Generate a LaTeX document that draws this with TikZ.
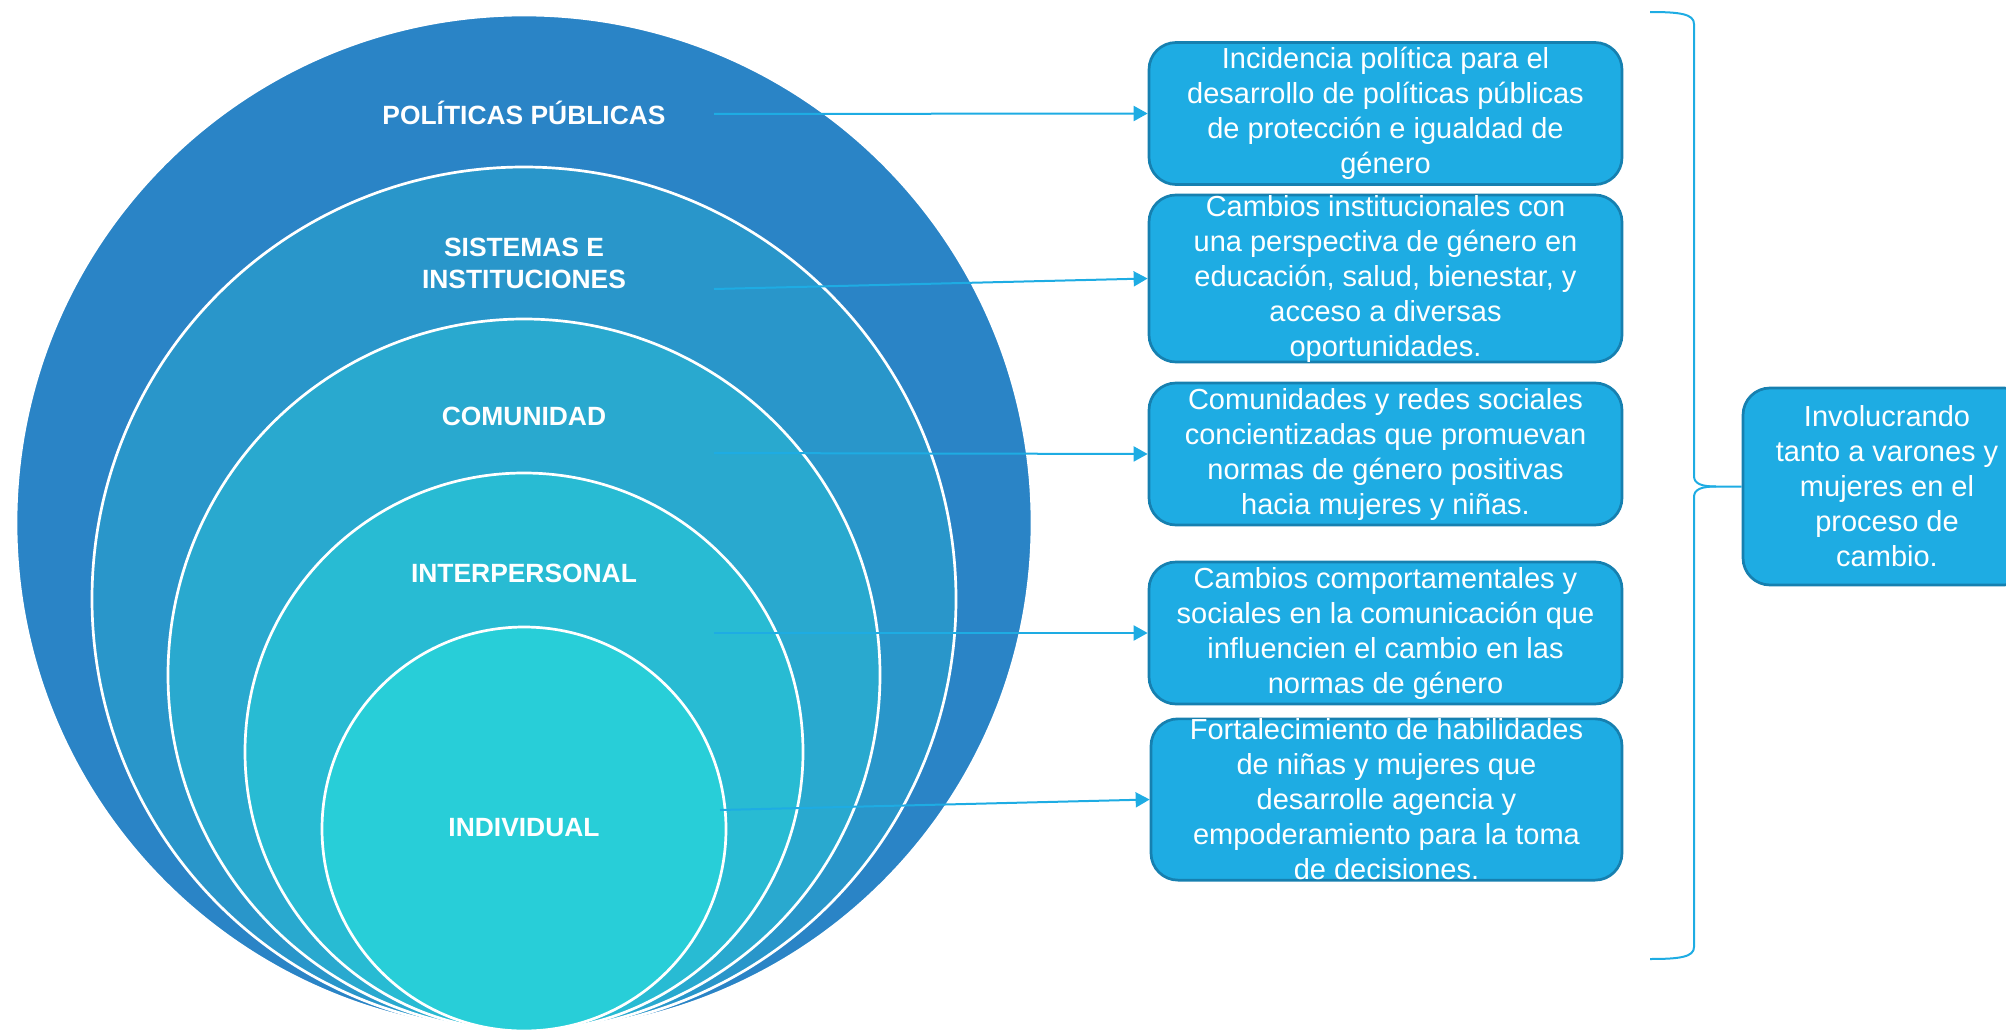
\documentclass[tikz,border=0pt]{standalone}
\usepackage{fontspec}
\setmainfont{Liberation Sans}
\usetikzlibrary{arrows.meta}

\definecolor{anillo1}{RGB}{42,132,198}
\definecolor{anillo2}{RGB}{41,150,202}
\definecolor{anillo3}{RGB}{41,169,207}
\definecolor{anillo4}{RGB}{40,187,211}
\definecolor{anillo5}{RGB}{40,206,216}
\definecolor{azulcaja}{RGB}{30,172,227}
\definecolor{bordecaja}{RGB}{22,128,176}

\tikzset{
  nivel/.style={text=white, align=center, font=\bfseries\fontsize{26.4}{32}\selectfont},
  recuadro/.style={draw=bordecaja, line width=2.7pt, fill=azulcaja, rounded corners=27pt,
    text=white, align=center, inner xsep=4pt, inner ysep=0pt, minimum width=473pt,
    font=\fontsize{29}{35}\selectfont},
  flecha/.style={azulcaja, line width=2pt, -{Triangle[length=14pt,width=15pt]}},
  llave/.style={azulcaja, line width=2pt}
}

\begin{document}
\begin{tikzpicture}[x=1pt,y=-1pt]
    \useasboundingbox (0,0) rectangle (2006,1033);
    % rings, all touching at the bottom
    \foreach \r/\c in {508/anillo1,432/anillo2,356/anillo3,279/anillo4,202/anillo5}
        \draw[white, line width=2.7pt, fill=\c] (524,{1031-\r}) circle[radius=\r];

    \node[nivel] at (524,113) (politicas) {POLÍTICAS PÚBLICAS};
    \node[nivel] at (524,263) (sistemas) {SISTEMAS E\\INSTITUCIONES};
    \node[nivel] at (524,416) (comunidad) {COMUNIDAD};
    \node[nivel] at (524,573) (interpersonal) {INTERPERSONAL};
    \node[nivel] at (524,828) (individual) {INDIVIDUAL};

    \node[recuadro, minimum height=142pt] at (1385.5,113.5) (b1)
        {Incidencia política para el\\desarrollo de políticas públicas\\de protección e igualdad de\\género};
    \node[recuadro, minimum height=163pt] at (1385.5,278.5) (b2)
        {Cambios institucionales con\\una perspectiva de género en\\educación, salud, bienestar, y\\acceso a diversas\\oportunidades.};
    \node[recuadro, minimum height=142pt] at (1385.5,454) (b3)
        {Comunidades y redes sociales\\concientizadas que promuevan\\normas de género positivas\\hacia mujeres y niñas.};
    \node[recuadro, minimum height=142pt] at (1385.5,633) (b4)
        {Cambios comportamentales y\\sociales en la comunicación que\\influencien el cambio en las\\normas de género};
    \node[recuadro, minimum height=161pt, minimum width=471pt] at (1386.5,799.5) (b5)
        {Fortalecimiento de habilidades\\de niñas y mujeres que\\desarrolle agencia y\\empoderamiento para la toma\\de decisiones.};

    \node[recuadro, minimum width=288pt, minimum height=197pt] at (1887,486.5) (inv)
        {Involucrando\\tanto a varones y\\mujeres en el\\proceso de\\cambio.};

    % arrows from the rings to the boxes
    \foreach \i/\x/\y in {1/714/114,2/714/289,3/714/453,4/714/633,5/720/810} {
        \coordinate (s\i) at (\x,\y);
        \draw[flecha] (s\i) -- (b\i.west);
    }

    % brace
    \draw[llave] (1650,12) .. controls (1680,12) and (1694,14) .. (1694,24) -- (1694,476)
        .. controls (1694,484) and (1702,486.5) .. (1716,486.5) -- (inv.west);
    \draw[llave] (1650,959) .. controls (1680,959) and (1694,957) .. (1694,947) -- (1694,497)
        .. controls (1694,489) and (1702,486.5) .. (1716,486.5);
\end{tikzpicture}
\end{document}
